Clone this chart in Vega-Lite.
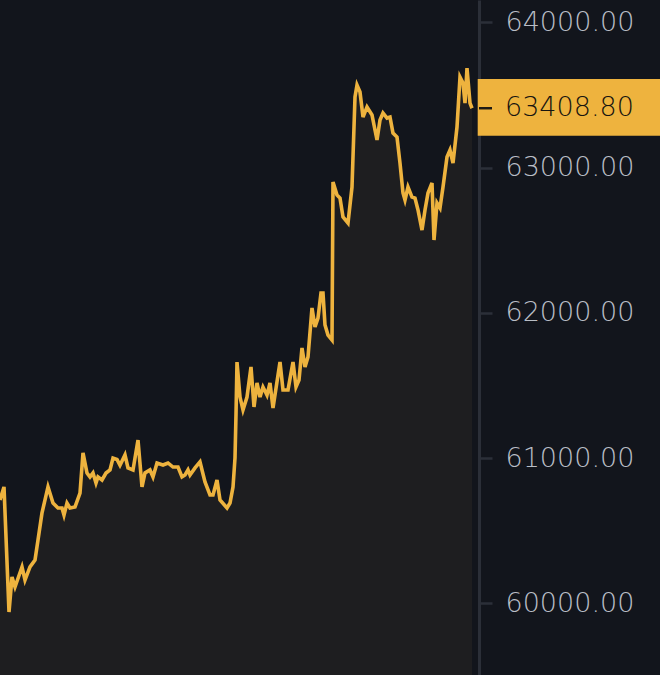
{
  "$schema": "https://vega.github.io/schema/vega-lite/v6.json",
  "width": 479,
  "height": 675,
  "autosize": "none",
  "padding": {"left": 0, "top": 0, "right": 181, "bottom": 0},
  "background": "#12151c",
  "config": {"view": {"stroke": null}},
  "datasets": {
    "prices": [
      {"t": 0, "p": 60711}, {"t": 4, "p": 60801}, {"t": 9, "p": 59940}, {"t": 12, "p": 60181},
      {"t": 15, "p": 60112}, {"t": 22, "p": 60250}, {"t": 25, "p": 60160}, {"t": 30, "p": 60250},
      {"t": 35, "p": 60298}, {"t": 38, "p": 60436}, {"t": 42, "p": 60622}, {"t": 48, "p": 60801},
      {"t": 53, "p": 60690}, {"t": 58, "p": 60656}, {"t": 62, "p": 60656}, {"t": 64, "p": 60608},
      {"t": 67, "p": 60690}, {"t": 70, "p": 60656}, {"t": 75, "p": 60663}, {"t": 80, "p": 60759},
      {"t": 83, "p": 61035}, {"t": 87, "p": 60897}, {"t": 90, "p": 60870}, {"t": 93, "p": 60897},
      {"t": 96, "p": 60828}, {"t": 98, "p": 60870}, {"t": 102, "p": 60849}, {"t": 106, "p": 60897},
      {"t": 110, "p": 60918}, {"t": 113, "p": 61000}, {"t": 117, "p": 60990}, {"t": 120, "p": 60950},
      {"t": 125, "p": 61021}, {"t": 128, "p": 60932}, {"t": 133, "p": 60918}, {"t": 138, "p": 61124},
      {"t": 142, "p": 60801}, {"t": 145, "p": 60897}, {"t": 150, "p": 60918}, {"t": 153, "p": 60870},
      {"t": 157, "p": 60966}, {"t": 163, "p": 60952}, {"t": 168, "p": 60966}, {"t": 173, "p": 60938},
      {"t": 178, "p": 60938}, {"t": 182, "p": 60870}, {"t": 185, "p": 60883}, {"t": 188, "p": 60918},
      {"t": 190, "p": 60883}, {"t": 195, "p": 60932}, {"t": 200, "p": 60973}, {"t": 205, "p": 60835},
      {"t": 210, "p": 60746}, {"t": 213, "p": 60746}, {"t": 217, "p": 60849}, {"t": 220, "p": 60711},
      {"t": 227, "p": 60656}, {"t": 230, "p": 60690}, {"t": 233, "p": 60800}, {"t": 235, "p": 61000},
      {"t": 236, "p": 61300}, {"t": 237, "p": 61661}, {"t": 240, "p": 61420}, {"t": 243, "p": 61331},
      {"t": 247, "p": 61420}, {"t": 251, "p": 61627}, {"t": 254, "p": 61352}, {"t": 257, "p": 61517},
      {"t": 260, "p": 61420}, {"t": 263, "p": 61489}, {"t": 267, "p": 61434}, {"t": 270, "p": 61517},
      {"t": 273, "p": 61345}, {"t": 280, "p": 61661}, {"t": 283, "p": 61469}, {"t": 288, "p": 61469},
      {"t": 293, "p": 61661}, {"t": 296, "p": 61489}, {"t": 299, "p": 61537}, {"t": 302, "p": 61758},
      {"t": 305, "p": 61627}, {"t": 308, "p": 61696}, {"t": 312, "p": 62033}, {"t": 315, "p": 61902},
      {"t": 318, "p": 61964}, {"t": 321, "p": 62136}, {"t": 323, "p": 62136}, {"t": 325, "p": 61916},
      {"t": 328, "p": 61847}, {"t": 332, "p": 61813}, {"t": 333, "p": 62900}, {"t": 337, "p": 62811},
      {"t": 340, "p": 62790}, {"t": 343, "p": 62660}, {"t": 348, "p": 62618}, {"t": 352, "p": 62866},
      {"t": 355, "p": 63486}, {"t": 357, "p": 63568}, {"t": 360, "p": 63520}, {"t": 363, "p": 63348},
      {"t": 367, "p": 63417}, {"t": 372, "p": 63362}, {"t": 377, "p": 63190}, {"t": 380, "p": 63327},
      {"t": 383, "p": 63376}, {"t": 387, "p": 63341}, {"t": 390, "p": 63348}, {"t": 393, "p": 63238},
      {"t": 397, "p": 63210}, {"t": 400, "p": 63031}, {"t": 403, "p": 62825}, {"t": 405, "p": 62777},
      {"t": 408, "p": 62866}, {"t": 412, "p": 62797}, {"t": 415, "p": 62790}, {"t": 418, "p": 62708},
      {"t": 422, "p": 62570}, {"t": 425, "p": 62708}, {"t": 428, "p": 62825}, {"t": 432, "p": 62894},
      {"t": 434, "p": 62501}, {"t": 437, "p": 62756}, {"t": 440, "p": 62722}, {"t": 443, "p": 62866},
      {"t": 447, "p": 63073}, {"t": 450, "p": 63121}, {"t": 453, "p": 63031}, {"t": 457, "p": 63279},
      {"t": 460, "p": 63623}, {"t": 463, "p": 63582}, {"t": 465, "p": 63444}, {"t": 467, "p": 63685},
      {"t": 470, "p": 63444}, {"t": 472, "p": 63408.8}
    ],
    "last": [
      {"price": 63408.8, "label": "63408.80"}
    ]
  },
  "layer": [
    {
      "data": {"name": "prices"},
      "mark": {"type": "area", "color": "#1e1e20"},
      "encoding": {
        "x": {"field": "t", "type": "quantitative", "scale": {"domain": [0, 479], "nice": false, "zero": false}, "axis": null},
        "y": {"field": "p", "type": "quantitative", "scale": {"domain": [59506, 64154], "nice": false, "zero": false},
          "axis": {
            "orient": "right", "title": null, "grid": false,
            "values": [60000, 61000, 62000, 63000, 64000], "format": ".2f",
            "labelFont": "DejaVu Sans", "labelFontSize": 27, "labelFontWeight": 300, "labelColor": "#b9bec6",
            "labelPadding": 13, "tickSize": 13, "tickWidth": 2.5, "tickColor": "#2b2f38",
            "domainColor": "#2b2f38", "domainWidth": 3
          }
        },
        "y2": {"datum": 59506}
      }
    },
    {
      "data": {"name": "prices"},
      "mark": {"type": "line", "color": "#eeb33e", "strokeWidth": 3.6},
      "encoding": {
        "x": {"field": "t", "type": "quantitative"},
        "y": {"field": "p", "type": "quantitative"}
      }
    },
    {
      "data": {"name": "last"},
      "mark": {"type": "rect", "color": "#eeb33e"},
      "encoding": {
        "x": {"datum": 477.7, "type": "quantitative"},
        "x2": {"datum": 660},
        "y": {"datum": 63610, "type": "quantitative"},
        "y2": {"datum": 63220}
      }
    },
    {
      "data": {"name": "last"},
      "mark": {"type": "rule", "color": "#1e1a14", "strokeWidth": 2.5},
      "encoding": {
        "x": {"datum": 479, "type": "quantitative"},
        "x2": {"datum": 492},
        "y": {"field": "price", "type": "quantitative"}
      }
    },
    {
      "data": {"name": "last"},
      "mark": {"type": "text", "align": "left", "baseline": "middle", "font": "DejaVu Sans", "fontSize": 27, "fontWeight": 300, "color": "#17150f"},
      "encoding": {
        "x": {"datum": 505, "type": "quantitative"},
        "y": {"field": "price", "type": "quantitative"},
        "text": {"field": "label"}
      }
    }
  ]
}
